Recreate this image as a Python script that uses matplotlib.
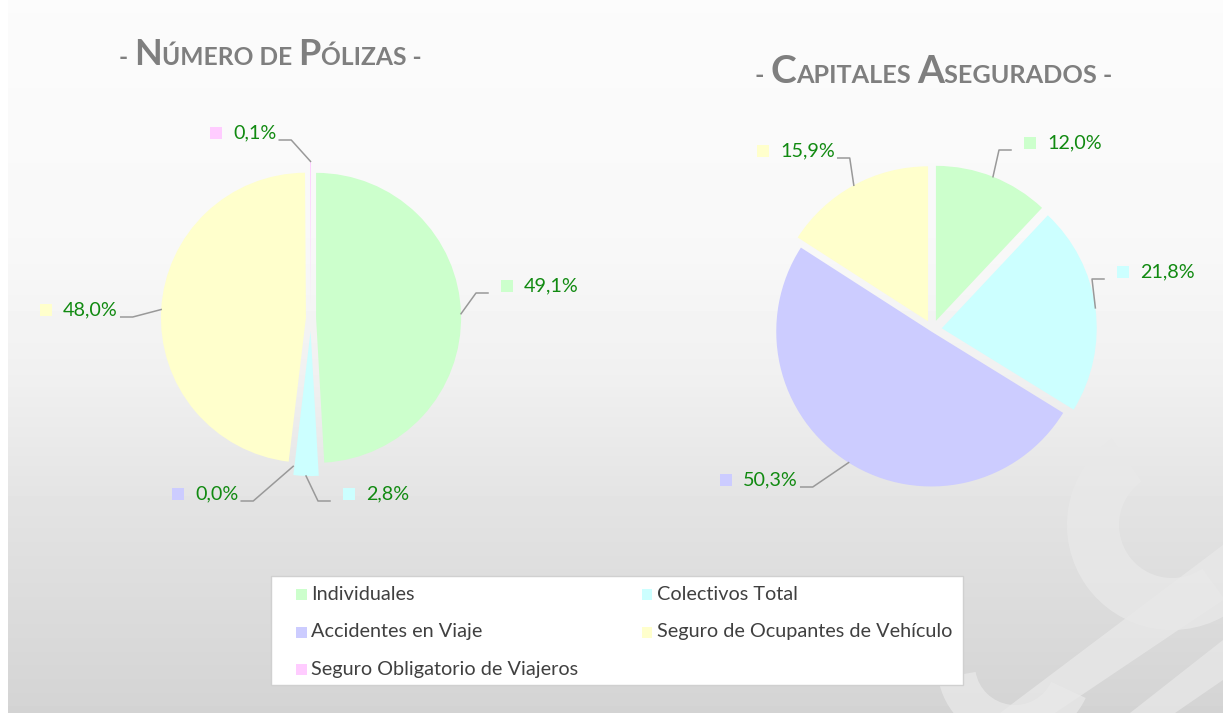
import matplotlib.pyplot as plt
import numpy as np
from matplotlib.patches import Rectangle, Wedge, Polygon
from matplotlib.lines import Line2D

# Data
categories = ['Individuales', 'Colectivos Total', 'Accidentes en Viaje',
              'Seguro de Ocupantes de Vehículo', 'Seguro Obligatorio de Viajeros']
colors = ['#CCFFCC', '#CCFFFF', '#CCCCFF', '#FFFFCC', '#FFCCFF']

polizas = [49.1, 2.8, 0.0, 48.0, 0.1]
capitales = [12.0, 21.8, 50.3, 15.9]

title_left = [('- ', 's'), ('N', 'b'), ('ÚMERO DE ', 's'), ('P', 'b'), ('ÓLIZAS -', 's')]
title_right = [('- ', 's'), ('C', 'b'), ('APITALES ', 's'), ('A', 'b'), ('SEGURADOS -', 's')]

W, H = 1223, 713
fig = plt.figure(figsize=(W / 100, H / 100), dpi=100)
plt.rcParams['font.family'] = ['Lato', 'DejaVu Sans']


def fx(x):
    return x / W


def fy(y):
    return 1 - y / H


# Background gradient with a faint watermark
bg = fig.add_axes([0, 0, 1, 1], zorder=-5)
rows = np.array([0, 250, 380, 520, 713])
vals = np.array([0.985, 0.972, 0.94, 0.885, 0.83])
grad = np.interp(np.arange(H), rows, vals)
img = np.repeat(grad[:, None], W, axis=1)
img[:, :8] = 1.0
bg.imshow(img, cmap='gray', vmin=0, vmax=1, aspect='auto',
          extent=(0, W, H, 0), interpolation='bilinear')
wm = '#E9E9E9'
bg.add_patch(Wedge((1172, 525), 105, 55, 235, width=52, color=wm, alpha=0.75, lw=0))
bg.add_patch(Polygon([(1000, 713), (1055, 713), (1223, 600), (1223, 545)],
                     closed=True, color=wm, alpha=0.75, lw=0))
bg.add_patch(Polygon([(1130, 713), (1175, 713), (1223, 680), (1223, 640)],
                     closed=True, color=wm, alpha=0.7, lw=0))
bg.add_patch(Wedge((1015, 665), 78, 25, 170, width=38, color=wm, alpha=0.75, lw=0))
bg.set_xlim(0, W)
bg.set_ylim(H, 0)
bg.axis('off')

LIM = 1.3


def pie_axes(cx, cy, r):
    half = LIM * r
    return fig.add_axes([fx(cx - half), fy(cy + half), 2 * half / W, 2 * half / H])


ax1 = pie_axes(311, 318, 145)
w1, _ = ax1.pie(polizas, colors=colors, startangle=90, counterclock=False,
                explode=[0.035, 0.09, 0.03, 0.035, 0.08],
                wedgeprops={'linewidth': 0})

ax2 = pie_axes(932.5, 329.5, 155)
w2, _ = ax2.pie(capitales, colors=colors[:4], startangle=90, counterclock=False,
                explode=[0.06, 0.06, 0.015, 0.06],
                wedgeprops={'linewidth': 0})

for ax in (ax1, ax2):
    ax.set_xlim(-LIM, LIM)
    ax.set_ylim(-LIM, LIM)
    ax.set_aspect('equal')
    ax.axis('off')

fig.canvas.draw()
renderer = fig.canvas.get_renderer()

# Data labels: marker position (px) and side of the pie
left_pos = [(507, 286, 'R'), (349, 494, 'R'), (178, 494, 'L'), (46, 310, 'L'), (216, 133, 'L')]
right_pos = [(1030, 143, 'R'), (1123, 272, 'R'), (726, 480, 'L'), (763, 151, 'L')]


def rim_point(ax, w):
    th = np.deg2rad((w.theta1 + w.theta2) / 2)
    px, py = ax.transData.transform((w.center[0] + w.r * np.cos(th),
                                     w.center[1] + w.r * np.sin(th)))
    return px, H - py


def add_labels(ax, wedges, values, positions):
    for w, v, (mx, my, side), c in zip(wedges, values, positions, colors):
        fig.add_artist(Rectangle((fx(mx - 6), fy(my + 6)), 12 / W, 12 / H,
                                 transform=fig.transFigure, color=c, lw=0))
        t = fig.text(fx(mx + 17), fy(my), f'{v:.1f}'.replace('.', ',') + '%',
                     fontsize=14.2, color='#118A11', ha='left', va='center')
        rx, ry = rim_point(ax, w)
        ly = my + 7
        if side == 'L':
            x_end = t.get_window_extent(renderer).x1 + 3
            xs = [x_end, x_end + 12, rx]
        else:
            xs = [mx - 19, mx - 31, rx]
        fig.add_artist(Line2D([fx(x) for x in xs], [fy(ly), fy(ly), fy(ry)],
                              transform=fig.transFigure, color='#999999', lw=1.1))


add_labels(ax1, w1, polizas, left_pos)
add_labels(ax2, w2, capitales, right_pos)


def title(x, base, pieces, big, small):
    for txt, kind in pieces:
        t = fig.text(fx(x), fy(base), txt, fontsize=big if kind == 'b' else small,
                     fontweight='bold', color='#7F7F7F', ha='left', va='baseline')
        x = t.get_window_extent(renderer).x1


title(119, 65, title_left, 26, 17.7)
title(755, 83, title_right, 28, 18.2)

# Legend box, row-major order as in the reference
fig.add_artist(Rectangle((fx(271), fy(685)), 692 / W, 109 / H, transform=fig.transFigure,
                         facecolor='white', edgecolor='#D0D0D0', lw=1, zorder=3))
col_x = [301, 647]
row_y = [594, 632, 669]
for i, (name, c) in enumerate(zip(categories, colors)):
    mx, my = col_x[i % 2], row_y[i // 2]
    fig.add_artist(Rectangle((fx(mx - 5.5), fy(my + 5.5)), 11 / W, 11 / H,
                             transform=fig.transFigure, color=c, lw=0, zorder=4))
    fig.text(fx(mx + 10), fy(my), name, fontsize=14.3, color='#404040',
             ha='left', va='center', zorder=5)

fig.savefig('out.png', dpi=100)
